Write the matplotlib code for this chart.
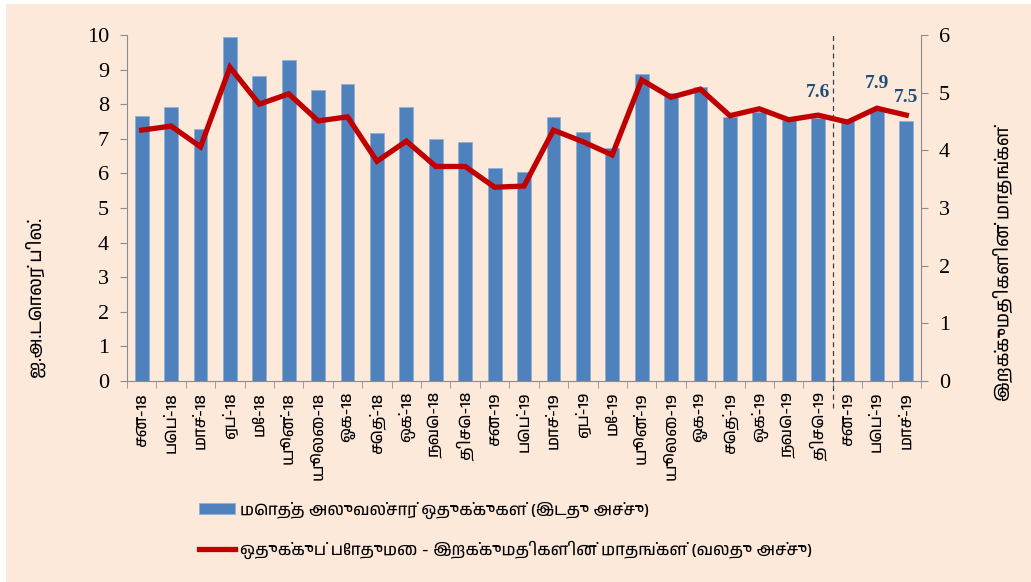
import matplotlib
matplotlib.use("Agg")
import matplotlib.pyplot as plt
from matplotlib import font_manager
from matplotlib.patches import Rectangle

# pick a Tamil-capable font if one is installed
tamil = [f.name for f in font_manager.fontManager.ttflist if "Tamil" in f.name]
tamil_fonts = sorted(set(tamil)) + ["Noto Sans", "DejaVu Sans"]

months = ["சன-18", "பெப்-18", "மாச்-18", "ஏப்-18", "மே-18", "யூன்-18", "யூலை-18",
          "ஓக-18", "செத்-18", "ஒக்-18", "நவெ-18", "திசெ-18", "சன-19", "பெப்-19",
          "மாச்-19", "ஏப்-19", "மே-19", "யூன்-19", "யூலை-19", "ஓக-19", "செத்-19",
          "ஒக்-19", "நவெ-19", "திசெ-19", "சன-19", "பெப்-19", "மாச்-19"]
reserves = [7.65, 7.92, 7.28, 9.94, 8.81, 9.28, 8.41, 8.58, 7.17, 7.92, 6.99, 6.91,
            6.16, 6.04, 7.63, 7.20, 6.73, 8.87, 8.32, 8.50, 7.63, 7.77, 7.54, 7.60,
            7.55, 7.90, 7.50]
import_months = [4.35, 4.42, 4.06, 5.44, 4.80, 4.98, 4.51, 4.58, 3.81, 4.16, 3.72, 3.72,
                 3.36, 3.38, 4.35, 4.15, 3.92, 5.22, 4.92, 5.06, 4.60, 4.72, 4.53, 4.61,
                 4.49, 4.73, 4.61]
labelled = {23: "7.6", 25: "7.9", 26: "7.5"}

bar_label = "மொத்த அலுவல்சார் ஒதுக்குகள் (இடது அச்சு)"
line_label = "ஒதுக்குப் போதுமை - இறக்குமதிகளின் மாதங்கள் (வலது அச்சு)"

bg = "#fde9da"
grey = "#8c8c8c"
serif = "Liberation Serif"

fig = plt.figure(figsize=(10.31, 5.82), dpi=100, facecolor="white")
fig.patches.append(Rectangle((6 / 1031, 0), 1, 1 - 4 / 582, transform=fig.transFigure,
                             facecolor=bg, edgecolor="none", zorder=-10))

ax = fig.add_axes([0.1232, 0.3454, 0.7701, 0.5945])
ax.set_facecolor("none")
x = list(range(len(months)))
ax.bar(x, reserves, width=0.47, color="#4f81bd", edgecolor="#8eb0d8", linewidth=0.6,
       label=bar_label, zorder=2)
ax.set_xlim(-0.5, len(months) - 0.5)
ax.set_ylim(0, 10)
ax.set_yticks(range(0, 11))

ax2 = ax.twinx()
ax2.plot(x, import_months, color="#c00000", linewidth=3.8, solid_joinstyle="miter",
         label=line_label, zorder=3)
ax2.set_ylim(0, 6)
ax2.set_yticks(range(0, 7))

for i, txt in labelled.items():
    off = {23: 16, 25: 18, 26: 13}[i]
    ax2.annotate(txt, (x[i], import_months[i]), xytext=(0, off), textcoords="offset points",
                 ha="center", va="center", fontsize=14, fontweight="bold",
                 family=serif, color="#1f4e79")

# vertical dashed separator between Dec-19 and Jan
ax.axvline(23.5, ymin=-0.078, ymax=1.01, color="#404040", linestyle=(0, (4, 3)),
           linewidth=0.9, clip_on=False, zorder=4)

ax.set_xticks(x)
ax.set_xticklabels(months, rotation=90, family=tamil_fonts, fontsize=12)
ax.set_xticks([i - 0.5 for i in range(len(months) + 1)], minor=True)
ax.tick_params(axis="x", which="major", length=0, pad=8)
ax.tick_params(axis="x", which="minor", length=5, color=grey, direction="out")

for a in (ax, ax2):
    for s in a.spines.values():
        s.set_color(grey)
    a.spines["top"].set_visible(False)
ax.spines["right"].set_visible(False)
ax2.spines["left"].set_visible(False)
ax2.spines["bottom"].set_visible(False)

ax.tick_params(axis="y", length=5, color=grey, labelsize=16, pad=8)
ax2.tick_params(axis="y", length=5, color=grey, labelsize=16, pad=8)
for lab in ax.get_yticklabels() + ax2.get_yticklabels():
    lab.set_family(serif)

ax.set_ylabel("ஐ.அ.டொலர் பில்.", family=tamil_fonts, fontsize=13)
ax.yaxis.set_label_coords(-0.102, 0.24)
ax2.set_ylabel("இறக்குமதிகளின் மாதங்கள்", family=tamil_fonts, fontsize=13, rotation=90)
ax2.yaxis.set_label_coords(1.091, 0.34)

h1, l1 = ax.get_legend_handles_labels()
h2, l2 = ax2.get_legend_handles_labels()
fig.legend(h1 + h2, l1 + l2, loc="upper left", bbox_to_anchor=(0.178, 0.164),
           frameon=False, prop={"family": tamil_fonts, "size": 12},
           handlelength=2.2, handleheight=0.6, labelspacing=1.3, handletextpad=0.3)

fig.savefig("out.png", dpi=100, facecolor=fig.get_facecolor())
